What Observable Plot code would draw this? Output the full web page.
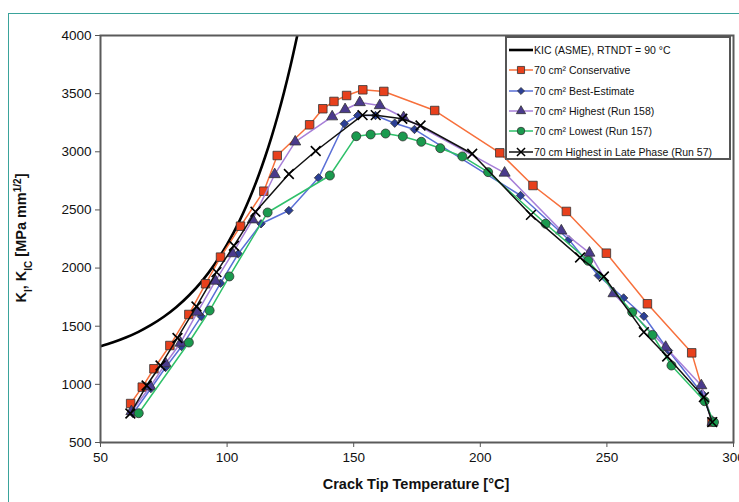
<!DOCTYPE html>
<html><head><meta charset="utf-8">
<script src="https://cdn.jsdelivr.net/npm/d3@7"></script>
<script src="https://cdn.jsdelivr.net/npm/@observablehq/plot@0.6"></script>
<style>
body{margin:0;background:#fff;font-family:"Liberation Sans",Arial,sans-serif;}
#wrap{position:relative;width:739px;height:502px;overflow:hidden;background:#fff;}
#frame{position:absolute;left:8px;top:13px;width:780px;height:560px;border:1.5px solid #3aa39b;box-sizing:border-box;}
#chart{position:absolute;left:0;top:0;}
#legend{position:absolute;left:505px;top:36px;width:226px;height:124px;border:2px solid #555;background:#fff;box-sizing:border-box;padding-top:2px;}
.row{height:20.3px;display:flex;align-items:center;font-size:10.5px;color:#111;white-space:nowrap;}
.row svg{margin-left:2px;margin-right:1px;flex:none;}
</style></head>
<body><div id="wrap"><div id="frame"></div><div id="chart"></div><div id="legend"></div></div>
<script>
// ---- data ----
const xTicks = [50,100,150,200,250,300];
const yTicks = [500,1000,1500,2000,2500,3000,3500,4000];

const kicT = [50,55,60,65,70,75,80,85,90,95,100,105,107.5,110,112.5,115,117.5,120,122.5,125,128];
const kicK = [1327,1362,1403,1452,1511,1581,1665,1766,1886,2031,2203,2410,2529,2658,2800,2955,3124,3310,3513,3735,4029];

const consT = [61.9,66.5,71.1,77.4,84.9,91.5,97.4,105.3,114.5,119.8,132.6,137.8,142.2,147.2,153.6,161.9,182,207.7,220.8,234,249.8,266,283.5,291.5];
const consK = [835,976,1134,1334,1601,1865,2094,2360,2661,2968,3232,3370,3433,3484,3533,3519,3355,2991,2710,2487,2128,1693,1271,675];

const bestT = [62.8,69.9,75.7,82,89.8,97.4,104.4,113.4,124.4,136.1,146.3,151.6,158.6,166.2,174,215.9,235,246.6,256.6,264.6,274.3,287.7,291.7];
const bestK = [749,964,1145,1326,1584,1870,2123,2381,2495,2776,3241,3312,3312,3246,3192,2624,2243,1936,1743,1586,1291,919,675];

const highT = [62.2,69.7,75.7,81.6,88.3,95.4,102.1,110.1,118.8,126.9,141.5,146.6,152.4,160.3,169.7,209.6,232,243.1,252.6,273.2,287.3,291.7];
const highK = [767,982,1179,1356,1622,1889,2125,2416,2805,3086,3302,3364,3424,3398,3295,2818,2321,2130,1781,1320,990,675];

const lowT = [65.1,84.9,93.1,100.9,116,140.6,151,156.7,162.6,169.4,176.7,184.2,192.9,203.1,225.8,242.6,260,268,275.5,288.6,292.3];
const lowK = [752,1360,1635,1928,2478,2796,3134,3149,3157,3132,3086,3031,2960,2825,2381,2063,1621,1425,1162,855,675];

const lateT = [61.8,68.2,73.7,80.4,87.9,95.8,102.7,111.2,124.4,135,153.5,158.7,169.2,176.4,196.8,220,239.4,248.8,264.6,273.8,288.3,291.6];
const lateK = [749,990,1162,1399,1670,1965,2192,2484,2809,3007,3315,3315,3284,3226,2983,2457,2091,1928,1449,1240,890,675];

const legendLabels = ["KIC (ASME), RTNDT = 90 °C","70 cm² Conservative","70 cm² Best-Estimate","70 cm² Highest (Run 158)","70 cm² Lowest (Run 157)","70 cm Highest in Late Phase (Run 57)"];

// ---- styles ----
const styles = [
  {line:"#000", fill:null, symbol:null, w:2.6},
  {line:"#f7703c", fill:"#e8401c", symbol:"square", r:4.8, w:1.5},
  {line:"#5a6fd6", fill:"#2b3f96", symbol:"diamond2", r:3.8, w:1.5},
  {line:"#a77fd8", fill:"#4a3a8c", symbol:"triangle", r:4.1, w:1.5},
  {line:"#2fc06a", fill:"#1a9a4e", symbol:"circle", r:4.5, w:1.5},
  {line:"#111", fill:"#111", symbol:"times", r:4.5, w:1.5}
];
const zip = (t,k) => t.map((v,i)=>({t:v,k:k[i]}));
const series = [zip(kicT,kicK), zip(consT,consK), zip(bestT,bestK), zip(highT,highK), zip(lowT,lowK), zip(lateT,lateK)];

const marks = [];
series.forEach((d,i)=>{
  const s = styles[i];
  marks.push(Plot.line(d,{x:"t",y:"k",stroke:s.line,strokeWidth:s.w,clip:true,curve:i===0?"monotone-x":"linear"}));
  if (s.symbol) {
    if (s.symbol==="times") marks.push(Plot.dot(d,{x:"t",y:"k",symbol:"times",r:s.r,stroke:"#000",strokeWidth:1.6}));
    else marks.push(Plot.dot(d,{x:"t",y:"k",symbol:s.symbol,r:s.r,fill:s.fill,stroke:"#333",strokeWidth:0.8}));
  }
});

const plot = Plot.plot({
  width:739, height:502, marginLeft:100, marginRight:6, marginTop:35, marginBottom:60,
  x:{domain:[50,300]}, y:{domain:[500,4000]},
  style:{fontFamily:"'Liberation Sans', Arial, sans-serif", fontSize:"13.5px", background:"transparent", color:"#111", overflow:"visible"},
  marks:[
    ...marks,
    Plot.frame({stroke:"#5a5a5a", strokeWidth:2}),
    Plot.axisX({ticks:xTicks, tickSize:5, tickPadding:5, label:null, tickFormat:d=>String(d), stroke:"#555"}),
    Plot.axisY({ticks:yTicks, tickSize:5, tickPadding:4, label:null, tickFormat:d=>String(d), stroke:"#555"})
  ]
});
document.getElementById("chart").appendChild(plot);

const svg = d3.select(plot);
svg.append("text").attr("x",416).attr("y",489).attr("text-anchor","middle")
  .attr("font-weight","bold").attr("font-size",14.5).attr("fill","#111").text("Crack Tip Temperature [°C]");
const yl = svg.append("text").attr("transform","translate(26,238) rotate(-90)").attr("text-anchor","middle")
  .attr("font-weight","bold").attr("font-size",14.5).attr("fill","#111");
yl.append("tspan").text("K");
yl.append("tspan").attr("baseline-shift","sub").attr("font-size",10).text("I");
yl.append("tspan").text(", K");
yl.append("tspan").attr("baseline-shift","sub").attr("font-size",10).text("IC");
yl.append("tspan").text(" [MPa mm");
yl.append("tspan").attr("baseline-shift","super").attr("font-size",10).text("1/2");
yl.append("tspan").text("]");

// ---- legend ----
const leg = d3.select("#legend");
legendLabels.forEach((lab,i)=>{
  const s = styles[i];
  const row = leg.append("div").attr("class","row");
  const g = row.append("svg").attr("width",24).attr("height",12);
  g.append("line").attr("x1",0).attr("x2",24).attr("y1",6).attr("y2",6).attr("stroke",s.line).attr("stroke-width",i===0?2.6:1.5);
  if (s.symbol) {
    const sym = {square:d3.symbolSquare, diamond2:d3.symbolDiamond2, triangle:d3.symbolTriangle, circle:d3.symbolCircle, times:d3.symbolTimes}[s.symbol];
    const p = d3.symbol(sym, Math.PI*s.r*s.r*0.7)();
    const m = g.append("path").attr("d",p).attr("transform","translate(12,6)");
    if (s.symbol==="times") m.attr("fill","none").attr("stroke","#000").attr("stroke-width",1.5);
    else m.attr("fill",s.fill).attr("stroke","#333").attr("stroke-width",0.8);
  }
  row.append("span").text(lab);
});
</script></body></html>
